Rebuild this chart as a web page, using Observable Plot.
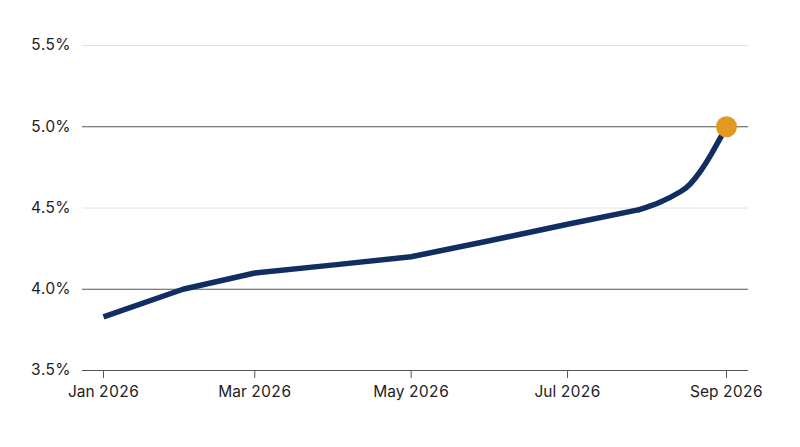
<!DOCTYPE html>
<html>
<head>
<meta charset="utf-8">
<script src="https://cdn.jsdelivr.net/npm/d3@7"></script>
<script src="https://cdn.jsdelivr.net/npm/@observablehq/plot@0.6"></script>
<style>
  body { margin: 0; background: #fff; }
  #chart { width: 800px; height: 447px; }
</style>
</head>
<body>
<div id="chart"></div>
<script>
const dates = ["2026-01-01","2026-02-01","2026-03-01","2026-04-01","2026-05-01","2026-06-01","2026-07-01","2026-07-29","2026-08-06","2026-08-14","2026-08-18","2026-08-22","2026-08-26","2026-09-01"];
const rates = [3.83, 4.0, 4.1, 4.15, 4.2, 4.3, 4.4, 4.49, 4.535, 4.60, 4.65, 4.73, 4.83, 5.0];
const yTicks = [3.5, 4.0, 4.5, 5.0, 5.5];
const darkGrid = [4.0, 5.0];
const lightGrid = [4.5, 5.5];
const xTicks = ["2026-01-01","2026-03-01","2026-05-01","2026-07-01","2026-09-01"];
const curveStart = "2026-07-29";

const data = dates.map((d, i) => ({date: new Date(d + "T00:00:00"), rate: rates[i]}));
const split = new Date(curveStart + "T00:00:00");
const straightPart = data.filter(d => d.date <= split);
const curvedPart = data.filter(d => d.date >= split);
const last = data[data.length - 1];

const chart = Plot.plot({
  width: 800,
  height: 447,
  marginTop: 45,
  marginBottom: 77,
  marginLeft: 82,
  marginRight: 52,
  insetLeft: 21,
  insetRight: 22,
  style: {fontFamily: "Inter, sans-serif", fontSize: "15.5px", color: "#222"},
  x: {type: "utc", domain: [new Date("2026-01-01T00:00:00"), new Date("2026-09-01T00:00:00")]},
  y: {domain: [3.5, 5.5]},
  marks: [
    Plot.ruleY(lightGrid, {stroke: "#e2e2e2", strokeWidth: 1}),
    Plot.ruleY(darkGrid, {stroke: "#555", strokeWidth: 1}),
    Plot.ruleY([3.5], {stroke: "#555", strokeWidth: 1.2}),
    Plot.axisY({ticks: yTicks, tickSize: 0, tickPadding: 12, tickFormat: d => d.toFixed(1) + "%", fontSize: 15.5, label: null}),
    Plot.axisX({ticks: xTicks.map(d => new Date(d + "T00:00:00")), tickSize: 8, tickPadding: 7, tickFormat: d3.timeFormat("%b %Y"), fontSize: 15.5, label: null, stroke: "#555"}),
    Plot.line(straightPart, {x: "date", y: "rate", stroke: "#112e63", strokeWidth: 5.5, curve: "linear", strokeLinejoin: "round", strokeLinecap: "butt"}),
    Plot.line(curvedPart, {x: "date", y: "rate", stroke: "#112e63", strokeWidth: 5.5, curve: "natural", strokeLinejoin: "round", strokeLinecap: "round"}),
    Plot.dot([last], {x: "date", y: "rate", r: 10.5, fill: "#e09a22", stroke: "none"})
  ]
});
document.getElementById("chart").appendChild(chart);
</script>
</body>
</html>
